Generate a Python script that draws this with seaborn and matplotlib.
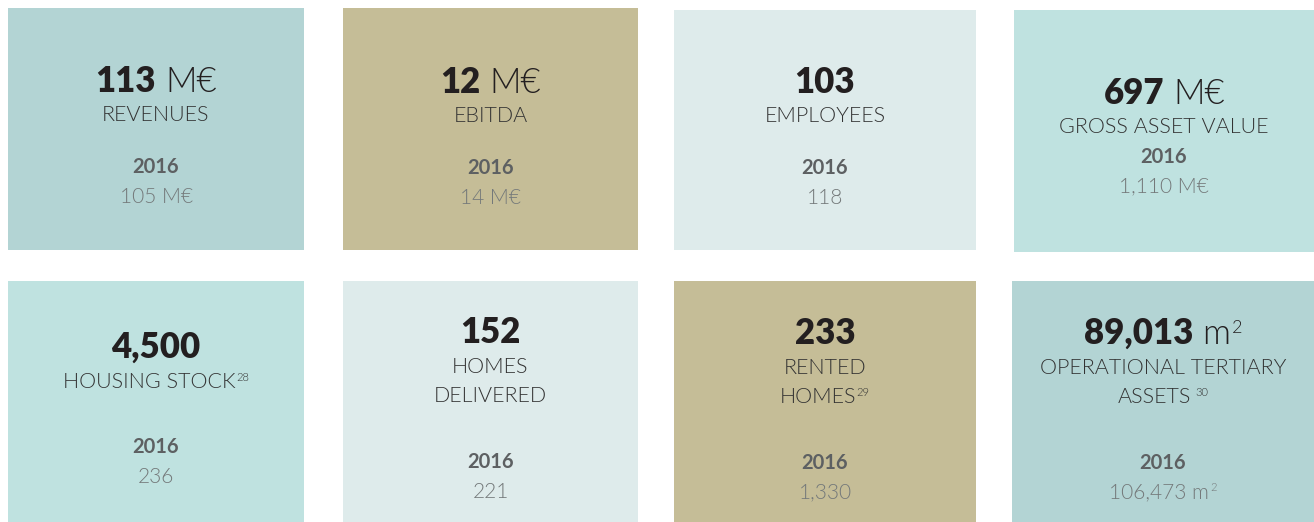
import matplotlib
matplotlib.use('Agg')
import matplotlib.pyplot as plt
from matplotlib.transforms import Affine2D
import seaborn as sns

# key figures, one tile each (left to right, top row first)
values = ['113', '12', '103', '697', '4,500', '152', '233', '89,013']
units = ['M€', 'M€', '', 'M€', '', '', '', 'm']
unit_sups = ['', '', '', '', '', '', '', '2']
labels = [['REVENUES'], ['EBITDA'], ['EMPLOYEES'], ['GROSS ASSET VALUE'],
          ['HOUSING STOCK'], ['HOMES', 'DELIVERED'], ['RENTED', 'HOMES'],
          ['OPERATIONAL TERTIARY', 'ASSETS']]
notes = ['', '', '', '', '28', '', '29', '30']
prev_year = '2016'
prev_values = ['105 M€', '14 M€', '118', '1,110 M€', '236', '221', '1,330', '106,473 m']
prev_sups = ['', '', '', '', '', '', '', '2']
tile_colors = ['#b3d4d4', '#c5bd97', '#deebeb', '#bfe2e0',
               '#bfe2e0', '#deebeb', '#c5bd97', '#b3d4d4']

# tile boxes in pixels (x0, y0, x1, y1), measured from the top left
boxes = [(8, 8, 304, 250), (343, 8, 638, 250), (674, 10, 976, 250), (1014, 10, 1314, 252),
         (8, 281, 304, 522), (343, 281, 638, 522), (674, 281, 976, 522), (1012, 281, 1314, 522)]
# baselines: big figure, label lines, year, previous value
baselines = [(92, [121], 173, 203), (93, [122], 174, 204), (93, [122], 174, 204),
             (104, [133], 163, 192), (358, [388], 453, 483), (343, [373, 402], 468, 498),
             (344, [374, 403], 469, 498), (344, [374, 403], 469, 498)]

W, H = 1314, 522
sns.set_theme(style='white')
plt.rcParams['font.family'] = ['Lato', 'DejaVu Sans']

fig = plt.figure(figsize=(W / 100, H / 100), dpi=100)
fig.patch.set_facecolor('white')
px = Affine2D().scale(1 / W, -1 / H).translate(0, 1) + fig.transFigure
renderer = fig.canvas.get_renderer()

DARK = '#231f20'
LABEL = '#333333'
YEAR = '#5d6062'
PREV = '#74797a'
THIN = 300


def rich_line(cx, base, parts):
    # parts: (text, size, weight, color, rise, gap before)
    items = []
    total = 0
    for s, size, weight, color, rise, gap in parts:
        t = fig.text(0, 0, s, fontsize=size, fontweight=weight, color=color,
                     transform=px, ha='left', va='baseline')
        w = t.get_window_extent(renderer=renderer).width
        items.append((t, w, rise, gap))
        total += gap + w
    x = cx - total / 2
    for t, w, rise, gap in items:
        x += gap
        t.set_position((x, base - rise))
        x += w


for i, (x0, y0, x1, y1) in enumerate(boxes):
    ax = fig.add_axes([x0 / W, 1 - y1 / H, (x1 - x0) / W, (y1 - y0) / H])
    ax.set_facecolor(tile_colors[i])
    ax.set_xticks([])
    ax.set_yticks([])
    sns.despine(ax=ax, left=True, bottom=True)

    cx = (x0 + x1) / 2
    b_big, b_labels, b_year, b_prev = baselines[i]

    parts = [(values[i], 25, 'heavy', DARK, 0, 0)]
    if units[i]:
        parts.append((units[i], 25, THIN, DARK, 0, 9))
    if unit_sups[i]:
        parts.append((unit_sups[i], 13, THIN, DARK, 11, 1))
    rich_line(cx, b_big, parts)

    for j, (line, b) in enumerate(zip(labels[i], b_labels)):
        lp = [(line, 15.5, THIN, LABEL, 0, 0)]
        if notes[i] and j == len(labels[i]) - 1:
            gap = 4 if i == 7 else 0
            lp.append((notes[i], 8, THIN, LABEL, 7, gap))
        rich_line(cx, b, lp)

    rich_line(cx, b_year, [(prev_year, 14.5, 'bold', YEAR, 0, 0)])
    pp = [(prev_values[i], 15, THIN, PREV, 0, 0)]
    if prev_sups[i]:
        pp.append((prev_sups[i], 8, THIN, PREV, 7, 1))
    rich_line(cx, b_prev, pp)

fig.savefig('out.png', dpi=100, facecolor='white')
